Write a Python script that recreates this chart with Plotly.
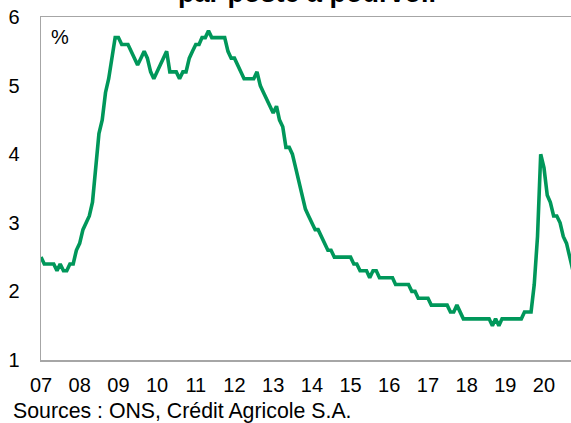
import pandas as pd
import plotly.graph_objects as go

# Monthly ratio (%), starting January 2007
values = [
    2.5, 2.4, 2.4, 2.4, 2.4, 2.3, 2.4, 2.3, 2.3, 2.4, 2.4, 2.6,
    2.7, 2.9, 3.0, 3.1, 3.3, 3.8, 4.3, 4.5, 4.9, 5.1, 5.4, 5.7,
    5.7, 5.6, 5.6, 5.6, 5.5, 5.4, 5.3, 5.4, 5.5, 5.4, 5.2, 5.1,
    5.2, 5.3, 5.4, 5.5, 5.2, 5.2, 5.2, 5.1, 5.2, 5.2, 5.4, 5.5,
    5.6, 5.6, 5.7, 5.7, 5.8, 5.7, 5.7, 5.7, 5.7, 5.7, 5.5, 5.4,
    5.4, 5.3, 5.2, 5.1, 5.1, 5.1, 5.1, 5.2, 5.0, 4.9, 4.8, 4.7,
    4.6, 4.7, 4.5, 4.4, 4.1, 4.1, 4.0, 3.8, 3.6, 3.4, 3.2, 3.1,
    3.0, 2.9, 2.9, 2.8, 2.7, 2.6, 2.6, 2.5, 2.5, 2.5, 2.5, 2.5,
    2.5, 2.4, 2.4, 2.3, 2.3, 2.3, 2.2, 2.3, 2.3, 2.2, 2.2, 2.2,
    2.2, 2.2, 2.1, 2.1, 2.1, 2.1, 2.1, 2.0, 2.0, 1.9, 1.9, 1.9,
    1.9, 1.8, 1.8, 1.8, 1.8, 1.8, 1.8, 1.7, 1.7, 1.8, 1.7, 1.6,
    1.6, 1.6, 1.6, 1.6, 1.6, 1.6, 1.6, 1.6, 1.5, 1.6, 1.5, 1.6,
    1.6, 1.6, 1.6, 1.6, 1.6, 1.6, 1.7, 1.7, 1.7, 2.1, 2.8, 4.0,
    3.8, 3.4, 3.3, 3.1, 3.1, 3.0, 2.8, 2.7, 2.5, 2.3,
]
start_month = "2007-01-01"
dates = pd.date_range(start_month, periods=len(values), freq="MS")

y_ticks = [1, 2, 3, 4, 5, 6]
title_text = "par poste à pourvoir"
unit_text = "%"
source_text = "Sources : ONS, Crédit Agricole S.A."

FONT = "Liberation Sans, Arial, sans-serif"
GREEN = "#00975A"
AXIS = "#A6A6A6"

fig = go.Figure()
fig.add_trace(go.Scatter(
    x=dates, y=values, mode="lines",
    line=dict(color=GREEN, width=3.6),
    hoverinfo="skip", showlegend=False,
))

fig.update_layout(
    width=571, height=423,
    margin=dict(l=41, r=0, t=17, b=63, pad=0),
    paper_bgcolor="white", plot_bgcolor="white",
    font=dict(family=FONT, size=20, color="#000000"),
    showlegend=False,
    xaxis=dict(
        type="date",
        range=["2007-01-01", "2020-09-12"],
        tickformat="%y", dtick="M12", tick0="2007-01-01",
        showgrid=False, zeroline=False,
        showline=True, linecolor=AXIS, linewidth=1.5, mirror=True,
        ticks="", ticklabelstandoff=6,
        tickfont=dict(family=FONT, size=20, color="#000"),
    ),
    yaxis=dict(
        range=[1, 6], tickvals=y_ticks,
        showgrid=False, zeroline=False,
        showline=True, linecolor=AXIS, linewidth=1.5,
        ticks="", ticklabelstandoff=16,
        tickfont=dict(family=FONT, size=20, color="#000"),
    ),
    annotations=[
        dict(text=title_text, xref="paper", yref="paper", x=0.505, y=1.07,
             xanchor="center", yanchor="middle", showarrow=False,
             font=dict(family=FONT, size=27, color="#000")),
        dict(text=unit_text, xref="paper", yref="paper", x=0.036, y=0.942,
             xanchor="center", yanchor="middle", showarrow=False,
             font=dict(family=FONT, size=20, color="#000")),
        dict(text=source_text, xref="paper", yref="paper", x=-0.057, y=-0.149,
             xanchor="left", yanchor="middle", showarrow=False,
             font=dict(family=FONT, size=21.3, color="#000")),
    ],
)
fig.layout.annotations[0].font.weight = "bold"

fig.write_html(
    "out.html",
    config={"displayModeBar": False, "staticPlot": True},
    post_script="document.body.style.margin='0';document.body.style.overflow='hidden';",
)
